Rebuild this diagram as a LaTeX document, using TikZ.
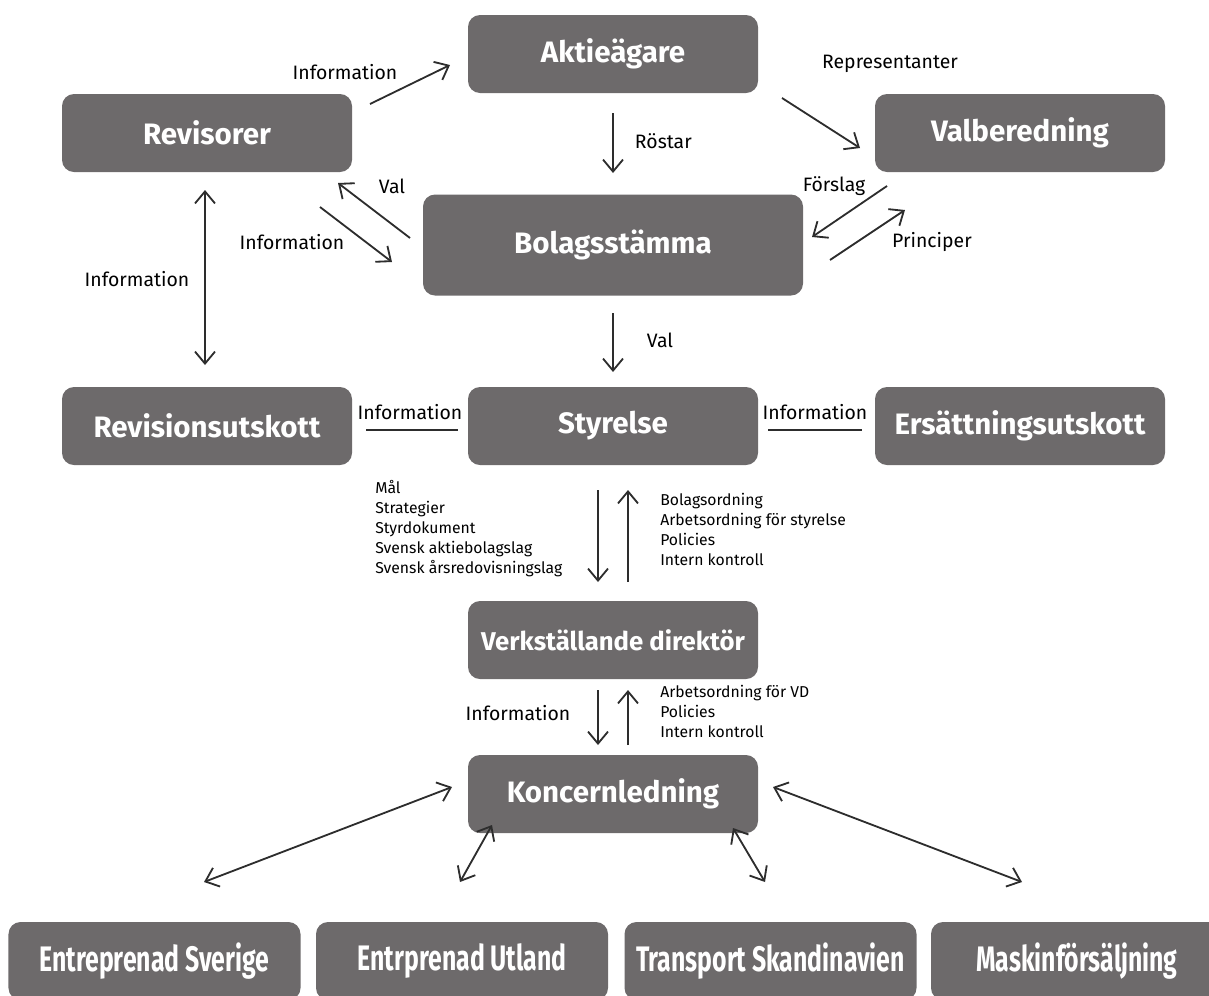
\documentclass[tikz,border=0pt]{standalone}
\usepackage{fontspec}
\setmainfont{Fira Sans}
\usetikzlibrary{positioning,arrows.meta,calc}
\definecolor{boxgray}{RGB}{109,106,107}
\definecolor{linegray}{RGB}{45,45,45}
\tikzset{
  box/.style={fill=boxgray, rounded corners=0.3cm, minimum width=7.25cm, minimum height=1.95cm, inner sep=0pt, text=white, font=\fontsize{21}{24}\selectfont\bfseries},
  bigbox/.style={box, minimum width=9.5cm, minimum height=2.525cm},
  unitbox/.style={box, minimum width=7.3cm},
  conn/.style={draw=linegray, line width=1.3pt, -{Straight Barb[length=3mm,width=5mm,line width=1.3pt]}},
  both/.style={conn, {Straight Barb[length=3mm,width=5mm,line width=1.3pt]}-{Straight Barb[length=3mm,width=5mm,line width=1.3pt]}},
  plain/.style={draw=linegray, line width=1.1pt},
  lbl/.style={font=\fontsize{13.8}{16}\selectfont, text=black},
  lst/.style={font=\fontsize{11.2}{14.2}\selectfont, text=black, align=left, inner sep=0pt}
}
\newcommand{\squeeze}[1]{\scalebox{0.84}[1.2]{#1}}
\begin{document}
\begin{tikzpicture}[node distance=1cm, on grid]
\useasboundingbox (0,0) rectangle (30.225,-24.875);
\clip (0,0) rectangle (30.225,-24.875);
% boxes
\node[box] (akt) at (15.325,-1.35) {Aktieägare};
\node[box, below left=1.975cm and 10.15cm of akt] (rev) {Revisorer};
\node[box, below right=1.975cm and 10.175cm of akt] (valb) {Valberedning};
\node[bigbox, below=4.775cm of akt] (bol) {Bolagsstämma};
\node[box, below=4.525cm of bol] (sty) {Styrelse};
\node[box, left=10.15cm of sty] (rut) {Revisionsutskott};
\node[box, right=10.175cm of sty] (eut) {Ersättningsutskott};
\node[box, below=5.35cm of sty, font=\fontsize{18.3}{22}\selectfont\bfseries] (vd) {Verkställande direktör};
\node[box, below=3.85cm of vd] (kl) {Koncernledning};
\node[unitbox, below left=4.175cm and 3.775cm of kl] (eut2) {\squeeze{Entrprenad Utland}};
\node[unitbox, left=7.6875cm of eut2] (esv) {\squeeze{Entreprenad Sverige}};
\node[unitbox, below right=4.175cm and 3.9375cm of kl] (tsk) {\squeeze{Transport Skandinavien}};
\node[unitbox, right=7.6625cm of tsk] (mfs) {\squeeze{Maskinförsäljning}};
% arrow ends
\coordinate (i1a) at (9.25,-2.6);
\coordinate (i1b) at (11.25,-1.625);
\coordinate (rpa) at (19.55,-2.45);
\coordinate (rpb) at (21.5,-3.7);
\coordinate (rsa) at (15.325,-2.825);
\coordinate (rsb) at (15.325,-4.325);
\coordinate (vla) at (10.25,-5.95);
\coordinate (vlb) at (8.45,-4.575);
\coordinate (i2a) at (8.0,-5.175);
\coordinate (i2b) at (9.8,-6.55);
\coordinate (fsa) at (22.175,-4.65);
\coordinate (fsb) at (20.3,-5.925);
\coordinate (pra) at (20.75,-6.5);
\coordinate (prb) at (22.625,-5.25);
\coordinate (i3a) at (5.125,-4.75);
\coordinate (i3b) at (5.125,-9.125);
\coordinate (v2a) at (15.325,-7.825);
\coordinate (v2b) at (15.325,-9.3);
\coordinate (lla) at (9.15,-10.75);
\coordinate (llb) at (11.45,-10.75);
\coordinate (lra) at (19.2,-10.75);
\coordinate (lrb) at (21.55,-10.75);
\coordinate (sda) at (14.95,-12.25);
\coordinate (sdb) at (14.95,-14.55);
\coordinate (sua) at (15.7,-14.55);
\coordinate (sub) at (15.7,-12.25);
\coordinate (kda) at (14.95,-17.25);
\coordinate (kdb) at (14.95,-18.625);
\coordinate (kua) at (15.7,-18.625);
\coordinate (kub) at (15.7,-17.25);
\coordinate (ba1) at (11.3,-19.675);
\coordinate (bb1) at (5.1,-22.05);
\coordinate (ba2) at (12.3,-20.625);
\coordinate (bb2) at (11.5,-22.05);
\coordinate (ba3) at (18.325,-20.7);
\coordinate (bb3) at (19.125,-22.05);
\coordinate (ba4) at (19.325,-19.675);
\coordinate (bb4) at (25.55,-22.05);
% connectors
\draw[conn] (i1a) -- (i1b);
\draw[conn] (rpa) -- (rpb);
\draw[conn] (rsa) -- (rsb);
\draw[conn] (vla) -- (vlb);
\draw[conn] (i2a) -- (i2b);
\draw[conn] (fsa) -- (fsb);
\draw[conn] (pra) -- (prb);
\draw[both] (i3a) -- (i3b);
\draw[conn] (v2a) -- (v2b);
\draw[plain] (lla) -- (llb);
\draw[plain] (lra) -- (lrb);
\draw[conn] (sda) -- (sdb);
\draw[conn] (sua) -- (sub);
\draw[conn] (kda) -- (kdb);
\draw[conn] (kua) -- (kub);
\draw[both] (ba1) -- (bb1);
\draw[both] (ba2) -- (bb2);
\draw[both] (ba3) -- (bb3);
\draw[both] (ba4) -- (bb4);
% labels
\node[lbl] (li1) at (8.625,-1.8) {Information};
\node[lbl] (lrp) at (22.25,-1.6) {Representanter};
\node[lbl, anchor=west] (lrs) at (15.75,-3.525) {Röstar};
\node[lbl] (lvl) at (9.8,-4.65) {Val};
\node[lbl] (li2) at (7.3,-6.05) {Information};
\node[lbl] (lfs) at (20.85,-4.65) {Förslag};
\node[lbl] (lpr) at (23.3,-6.05) {Principer};
\node[lbl] (li3) at (3.425,-6.975) {Information};
\node[lbl] (lv2) at (16.5,-8.5) {Val};
\node[lbl] (lil) at (10.25,-10.3) {Information};
\node[lbl] (lir) at (20.375,-10.3) {Information};
\node[lst, anchor=north west] (lsl) at (9.375,-12.0) {Mål\\Strategier\\Styrdokument\\Svensk aktiebolagslag\\Svensk årsredovisningslag};
\node[lst, anchor=north west] (lsr) at (16.5,-12.325) {Bolagsordning\\Arbetsordning för styrelse\\Policies\\Intern kontroll};
\node[lbl] (lik) at (12.95,-17.825) {Information};
\node[lst, anchor=north west] (lkr) at (16.5,-17.125) {Arbetsordning för VD\\Policies\\Intern kontroll};
\end{tikzpicture}
\end{document}
